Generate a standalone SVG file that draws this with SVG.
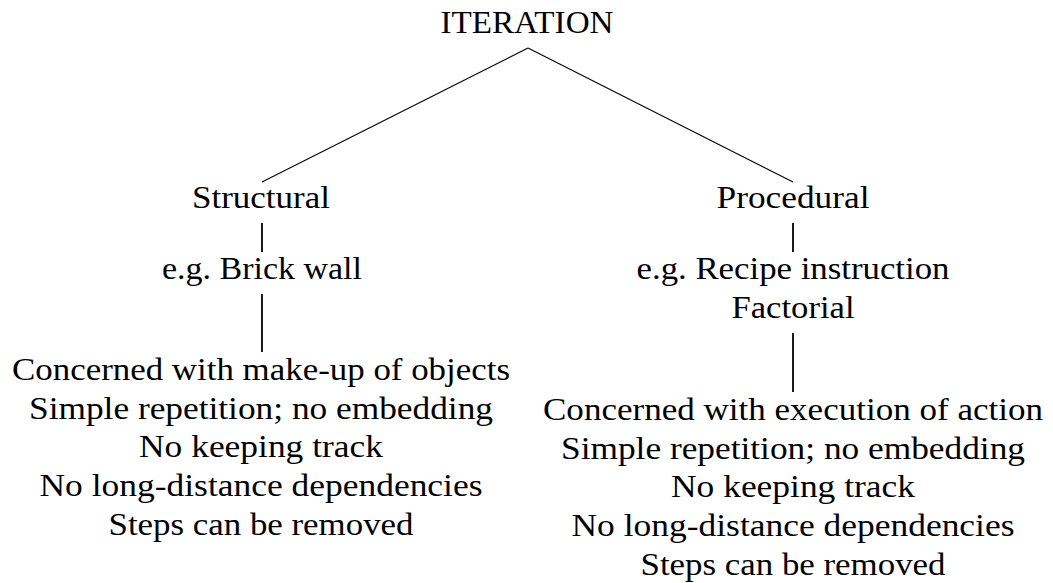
<svg xmlns="http://www.w3.org/2000/svg" width="1053" height="583" viewBox="0 0 1053 583">
  <style>
    text { font-family: 'Liberation Serif', Tinos, 'Times New Roman', Times, serif; font-size: 31px; fill: #000; text-anchor: middle; }
    .edge { stroke: #000; fill: none; }
    .diag { stroke-width: 1.1; }
    .vert { stroke-width: 1.8; }
  </style>
  <rect width="1053" height="583" fill="#fff"/>

  <!-- connectors -->
  <g id="connectors">
    <line class="edge diag" x1="528" y1="48" x2="262" y2="182"/>
    <line class="edge diag" x1="528" y1="48" x2="793" y2="182"/>
    <line class="edge vert" x1="262" y1="223" x2="262" y2="252"/>
    <line class="edge vert" x1="262" y1="294" x2="262" y2="352"/>
    <line class="edge vert" x1="793" y1="223" x2="793" y2="252"/>
    <line class="edge vert" x1="793" y1="333" x2="793" y2="392"/>
  </g>

  <!-- root -->
  <g id="iteration">
    <text x="527" y="33" textLength="173" lengthAdjust="spacingAndGlyphs">ITERATION</text>
  </g>

  <!-- structural branch -->
  <g id="structural">
    <text x="261" y="208" textLength="138" lengthAdjust="spacingAndGlyphs">Structural</text>
  </g>
  <g id="structural-example">
    <text x="262" y="279" textLength="200" lengthAdjust="spacingAndGlyphs">e.g. Brick wall</text>
  </g>
  <g id="structural-traits">
    <text x="261" y="380" textLength="498" lengthAdjust="spacingAndGlyphs">Concerned with make-up of objects</text>
    <text x="261" y="418.7" textLength="464" lengthAdjust="spacingAndGlyphs">Simple repetition; no embedding</text>
    <text x="261" y="457.4" textLength="244" lengthAdjust="spacingAndGlyphs">No keeping track</text>
    <text x="261" y="496.1" textLength="443" lengthAdjust="spacingAndGlyphs">No long-distance dependencies</text>
    <text x="261" y="534.8" textLength="305" lengthAdjust="spacingAndGlyphs">Steps can be removed</text>
  </g>

  <!-- procedural branch -->
  <g id="procedural">
    <text x="793" y="208" textLength="153" lengthAdjust="spacingAndGlyphs">Procedural</text>
  </g>
  <g id="procedural-example">
    <text x="793" y="279" textLength="313" lengthAdjust="spacingAndGlyphs">e.g. Recipe instruction</text>
    <text x="793" y="317.7" textLength="123" lengthAdjust="spacingAndGlyphs">Factorial</text>
  </g>
  <g id="procedural-traits">
    <text x="793" y="420" textLength="500" lengthAdjust="spacingAndGlyphs">Concerned with execution of action</text>
    <text x="793" y="458.7" textLength="464" lengthAdjust="spacingAndGlyphs">Simple repetition; no embedding</text>
    <text x="793" y="497.4" textLength="244" lengthAdjust="spacingAndGlyphs">No keeping track</text>
    <text x="793" y="536.1" textLength="443" lengthAdjust="spacingAndGlyphs">No long-distance dependencies</text>
    <text x="793" y="574.8" textLength="305" lengthAdjust="spacingAndGlyphs">Steps can be removed</text>
  </g>
</svg>
